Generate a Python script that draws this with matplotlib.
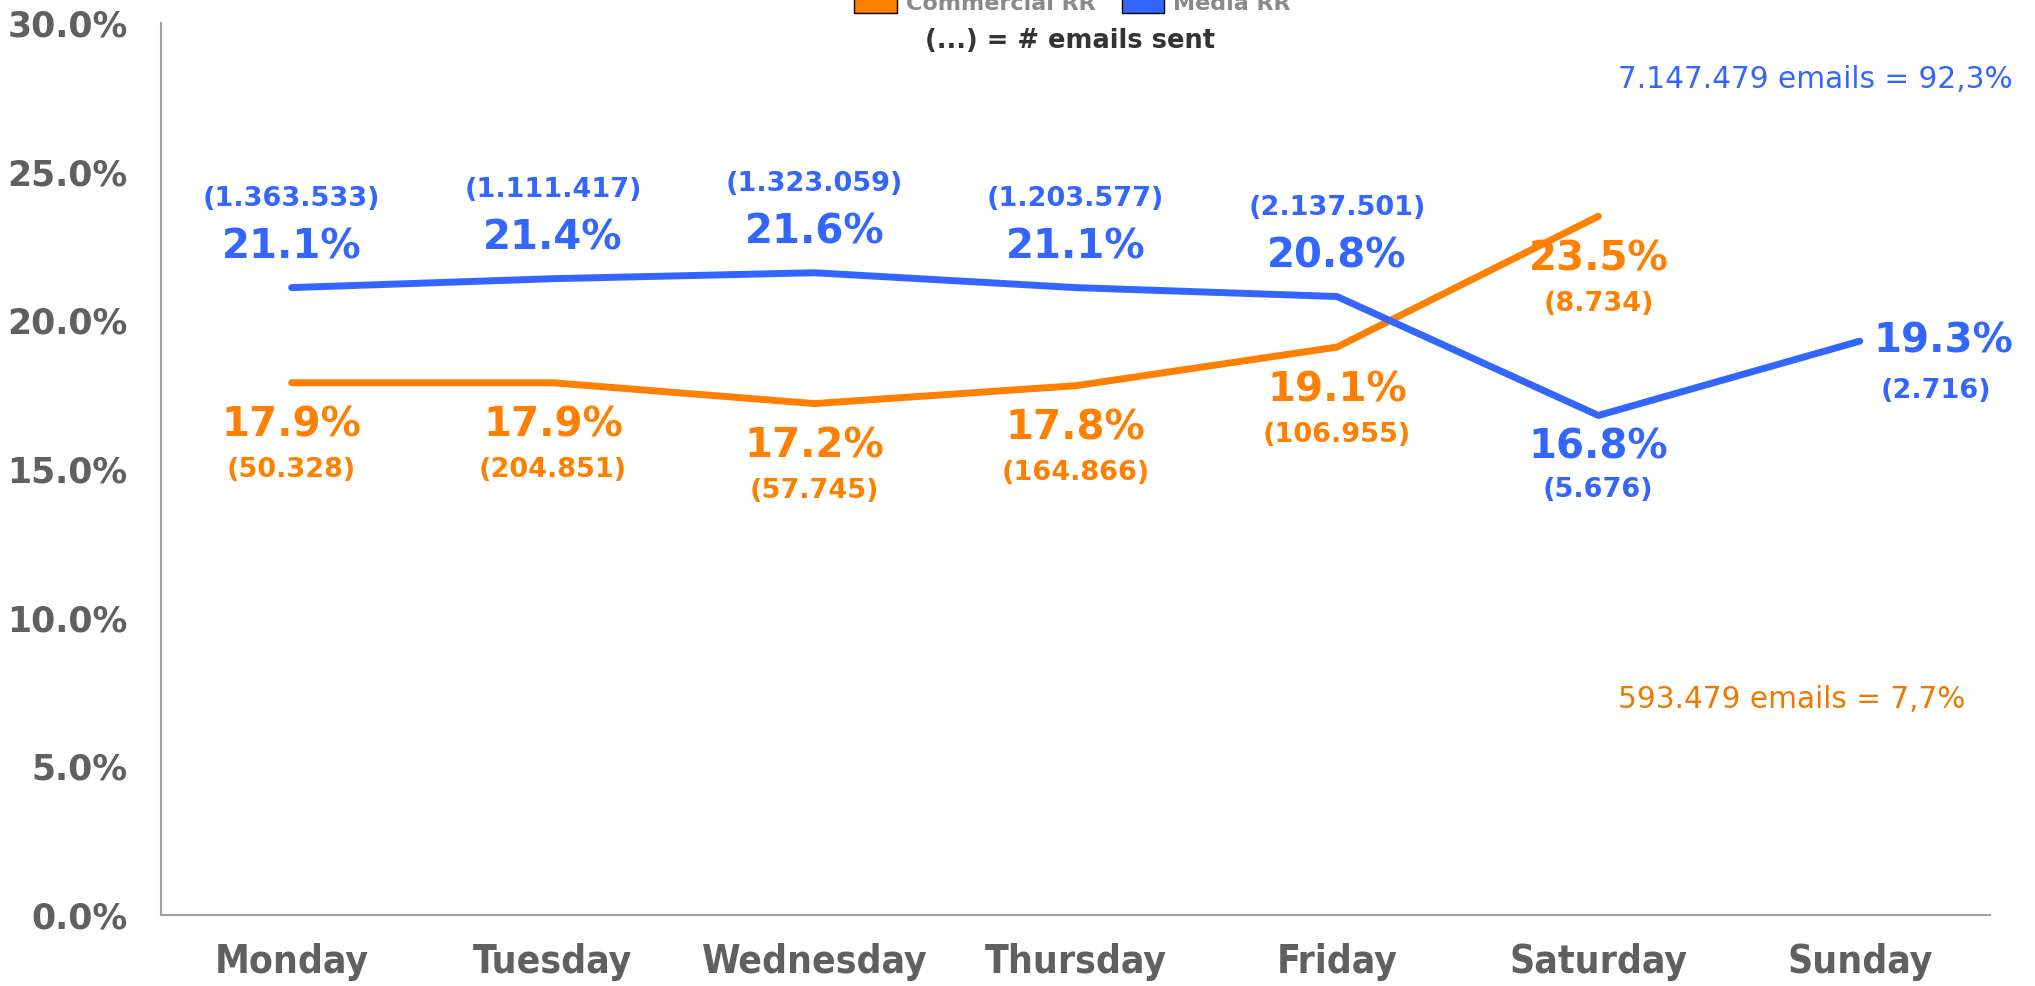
import matplotlib
matplotlib.use("Agg")
import matplotlib.pyplot as plt
from matplotlib.patches import Patch
import numpy as np

# data
days = ["Monday", "Tuesday", "Wednesday", "Thursday", "Friday", "Saturday", "Sunday"]
media_rr = [21.1, 21.4, 21.6, 21.1, 20.8, 16.8, 19.3]
media_sent = ["1.363.533", "1.111.417", "1.323.059", "1.203.577", "2.137.501", "5.676", "2.716"]
commercial_rr = [17.9, 17.9, 17.2, 17.8, 19.1, 23.5]
commercial_sent = ["50.328", "204.851", "57.745", "164.866", "106.955", "8.734"]
media_total = "7.147.479 emails = 92,3%"
commercial_total = "593.479 emails = 7,7%"

# where each label sits relative to its point
media_pos = ["above", "above", "above", "above", "above", "under", "right"]
commercial_pos = ["below"] * 6

ORANGE = "#FF8000"
BLUE = "#3366FF"
GRAY = "#606060"

OFFSETS = {
    "above": [(0, 29), (0, 64)],
    "below": [(0, -31), (0, -63)],
    "under": [(0, -23), (0, -54)],
    "right": [(10, 0), (55, -36)],
}

fig = plt.figure(figsize=(20.35, 9.86), dpi=100)
ax = fig.add_axes([0.0791, 0.072, 0.899, 0.9047])

x = np.arange(len(days))
ax.plot(x[:len(commercial_rr)], commercial_rr, color=ORANGE, lw=5, solid_capstyle="round", solid_joinstyle="round")
ax.plot(x, media_rr, color=BLUE, lw=5, solid_capstyle="round", solid_joinstyle="round")


def label(xi, v, cnt, pos, color):
    offs = OFFSETS[pos]
    ax.annotate(f"{v:.1f}%", (xi, v), xytext=offs[0], textcoords="offset points",
                ha="left" if pos == "right" else "center", va="center", fontsize=29,
                fontweight="bold", color=color)
    ax.annotate(f"({cnt})", (xi, v), xytext=offs[1], textcoords="offset points",
                ha="center", va="center", fontsize=19.5, fontweight="bold", color=color)


for i, (v, c, p) in enumerate(zip(media_rr, media_sent, media_pos)):
    label(i, v, c, p, BLUE)
for i, (v, c, p) in enumerate(zip(commercial_rr, commercial_sent, commercial_pos)):
    label(i, v, c, p, ORANGE)

ax.set_xlim(-0.5, 6.5)
ax.set_ylim(0, 30)
ax.set_yticks(np.arange(0, 31, 5))
ax.set_yticklabels([f"{t:.1f}%" for t in np.arange(0, 31, 5)])
ax.set_xticks(x)
ax.set_xticklabels(days)
ax.tick_params(axis="y", length=0, pad=24, labelsize=25, labelcolor=GRAY)
ax.tick_params(axis="x", length=0, pad=20, labelsize=28, labelcolor=GRAY)
for t in ax.get_yticklabels():
    t.set_fontweight("bold")
for t in ax.get_xticklabels():
    t.set_fontweight("bold")
    t.set_fontstretch("condensed")

for s in ["top", "right"]:
    ax.spines[s].set_visible(False)
for s in ["left", "bottom"]:
    ax.spines[s].set_color("#a0a0a0")
    ax.spines[s].set_linewidth(1.5)

# totals on the right
fig.text(1618 / 2035, 1 - 79 / 986, media_total, color=BLUE, fontsize=21.3, va="center", ha="left")
fig.text(1618 / 2035, 1 - 699 / 986, commercial_total, color="#F07800", fontsize=21.3, va="center", ha="left")

# legend at the top (cut off in the original)
handles = [Patch(facecolor=ORANGE, edgecolor="black"), Patch(facecolor=BLUE, edgecolor="black")]
leg = fig.legend(handles, ["Commercial RR", "Media RR"], loc="lower center",
                 bbox_to_anchor=(0.527, 1 - 14 / 986), ncol=2, frameon=False,
                 prop={"size": 16, "weight": "bold"}, handlelength=1.9, handleheight=1.1,
                 columnspacing=1.2, handletextpad=0.4, borderpad=0, borderaxespad=0)
for t in leg.get_texts():
    t.set_color("#8a8a8a")

fig.text(1070 / 2035, 1 - 41 / 986, "(...) = # emails sent", color="#333333",
         fontsize=18.5, fontweight="bold", ha="center", va="center")

fig.savefig("out.png", dpi=100)
